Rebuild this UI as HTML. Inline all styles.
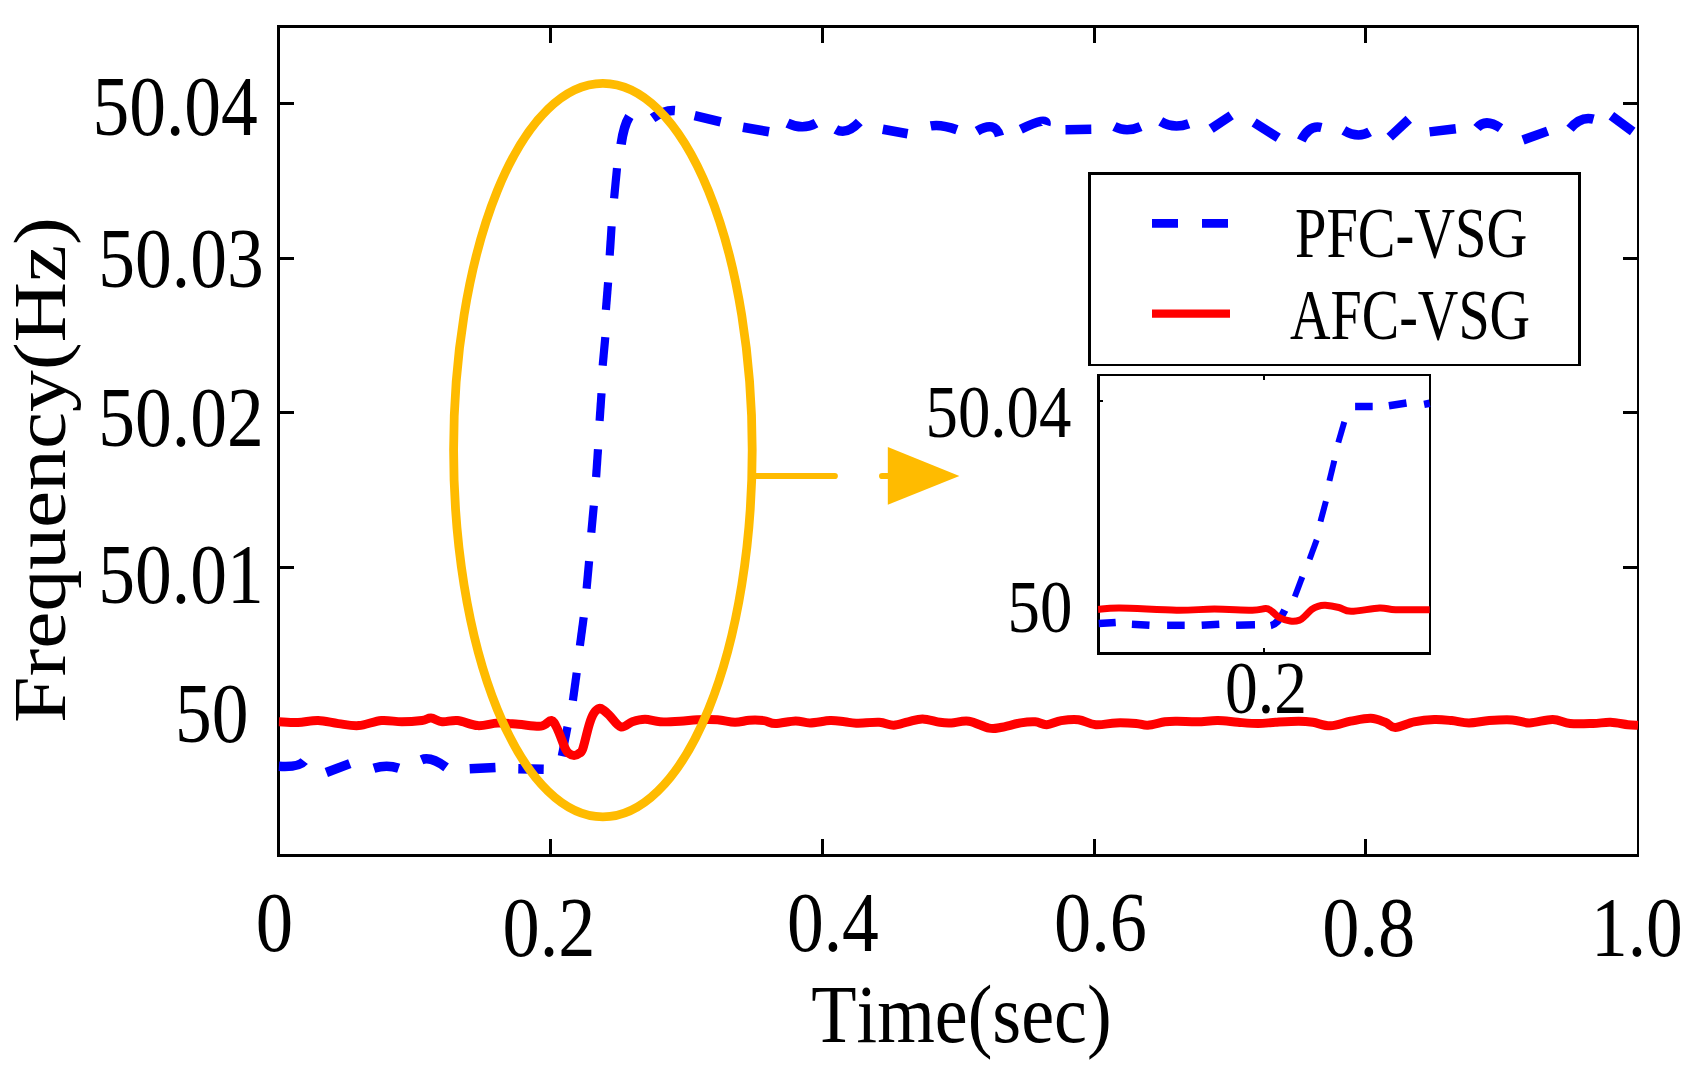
<!DOCTYPE html>
<html lang="en"><head><meta charset="utf-8"><title>Frequency response</title>
<style>html,body{margin:0;padding:0;background:#fff}svg{display:block}</style></head>
<body>
<svg width="1697" height="1072" viewBox="0 0 1697 1072" font-family="'Liberation Serif', 'Times New Roman', serif" fill="#000" style="font-kerning:none">
<rect width="1697" height="1072" fill="#fff"/>
<g shape-rendering="crispEdges"><rect x="277" y="25" width="1362" height="3" fill="#000"/><rect x="277" y="854" width="1362" height="3" fill="#000"/><rect x="277" y="25" width="3" height="832" fill="#000"/><rect x="1637" y="25" width="2" height="832" fill="#000"/><rect x="549" y="25" width="3" height="18" fill="#000"/><rect x="549" y="839" width="3" height="18" fill="#000"/><rect x="821" y="25" width="3" height="18" fill="#000"/><rect x="821" y="839" width="3" height="18" fill="#000"/><rect x="1093" y="25" width="3" height="18" fill="#000"/><rect x="1093" y="839" width="3" height="18" fill="#000"/><rect x="1364" y="25" width="3" height="18" fill="#000"/><rect x="1364" y="839" width="3" height="18" fill="#000"/><rect x="277" y="102" width="17" height="3" fill="#000"/><rect x="1623" y="102" width="16" height="3" fill="#000"/><rect x="277" y="257" width="17" height="3" fill="#000"/><rect x="1623" y="257" width="16" height="3" fill="#000"/><rect x="277" y="411" width="17" height="3" fill="#000"/><rect x="1623" y="411" width="16" height="3" fill="#000"/><rect x="277" y="566" width="17" height="3" fill="#000"/><rect x="1623" y="566" width="16" height="3" fill="#000"/><rect x="277" y="721" width="17" height="3" fill="#000"/><rect x="1623" y="721" width="16" height="3" fill="#000"/></g>
<path d="M278.9,766.2Q299.1,767.5 304.2,761.1" fill="none" stroke="#0000ff" stroke-width="9.5"/>
<path d="M326.3,772.5L349.8,763.6" fill="none" stroke="#0000ff" stroke-width="9.5"/>
<path d="M373.9,768.2Q386.9,764.2 398.7,768.2" fill="none" stroke="#0000ff" stroke-width="9.5"/>
<path d="M421.5,759.8Q430.6,756.0 446.1,767.4" fill="none" stroke="#0000ff" stroke-width="9.5"/>
<path d="M469.7,768.7L495.5,767.4" fill="none" stroke="#0000ff" stroke-width="9.5"/>
<path d="M518.3,768.7L543.7,769.2" fill="none" stroke="#0000ff" stroke-width="9.5"/>
<path d="M561.8,756.1L567.5,726.9" fill="none" stroke="#0000ff" stroke-width="8.2"/>
<path d="M572.9,700.6L576.7,672.7" fill="none" stroke="#0000ff" stroke-width="8.2"/>
<path d="M579.9,645.7L583.7,617.2" fill="none" stroke="#0000ff" stroke-width="8.2"/>
<path d="M586.6,588.7L589.1,561.1" fill="none" stroke="#0000ff" stroke-width="8.2"/>
<path d="M591.3,532.6L593.8,505.6" fill="none" stroke="#0000ff" stroke-width="8.2"/>
<path d="M596.1,477.1L598.0,449.2" fill="none" stroke="#0000ff" stroke-width="8.2"/>
<path d="M599.6,420.9L601.5,393.3" fill="none" stroke="#0000ff" stroke-width="8.2"/>
<path d="M602.7,365.7L605.3,337.2" fill="none" stroke="#0000ff" stroke-width="8.2"/>
<path d="M605.9,309.9L608.1,282.3" fill="none" stroke="#0000ff" stroke-width="8.2"/>
<path d="M609.7,255.4L611.6,226.2" fill="none" stroke="#0000ff" stroke-width="8.2"/>
<path d="M614.1,198.3L617.0,168.2" fill="none" stroke="#0000ff" stroke-width="8.2"/>
<path d="M621.1,144.4Q623.8,125.6 629.4,116.5" fill="none" stroke="#0000ff" stroke-width="9.5"/>
<path d="M652.6,118.2Q664.2,109.7 674.9,110.5" fill="none" stroke="#0000ff" stroke-width="9.5"/>
<path d="M694.7,115.7L720.7,121.9" fill="none" stroke="#0000ff" stroke-width="9.5"/>
<path d="M743.0,127.3L769.0,131.8" fill="none" stroke="#0000ff" stroke-width="9.5"/>
<path d="M787.5,123.1Q803.0,130.5 816.0,123.1" fill="none" stroke="#0000ff" stroke-width="9.5"/>
<path d="M835.8,129.3Q846.5,135.4 859.3,121.9" fill="none" stroke="#0000ff" stroke-width="9.5"/>
<path d="M882.8,129.3L907.6,133.7" fill="none" stroke="#0000ff" stroke-width="9.5"/>
<path d="M930.7,125.9Q941.0,124.0 956.9,129.7" fill="none" stroke="#0000ff" stroke-width="9.5"/>
<path d="M977.1,131.1Q995.1,120.4 999.5,136.0" fill="none" stroke="#0000ff" stroke-width="9.5"/>
<path d="M1020.8,129.3Q1048.5,115.8 1045.8,124.8" fill="none" stroke="#0000ff" stroke-width="9.5"/>
<path d="M1065.5,129.7L1091.3,129.3" fill="none" stroke="#0000ff" stroke-width="9.5"/>
<path d="M1114.4,126.6Q1126.7,132.8 1140.6,126.6" fill="none" stroke="#0000ff" stroke-width="9.5"/>
<path d="M1160.7,121.4Q1173.5,129.2 1188.7,123.7" fill="none" stroke="#0000ff" stroke-width="9.5"/>
<path d="M1211.1,128.8L1231.2,115.4" fill="none" stroke="#0000ff" stroke-width="9.5"/>
<path d="M1254.1,122.5L1278.3,137.8" fill="none" stroke="#0000ff" stroke-width="9.5"/>
<path d="M1301.3,140.5Q1309.1,124.6 1321.4,127.5" fill="none" stroke="#0000ff" stroke-width="9.5"/>
<path d="M1343.8,130.4Q1357.9,138.7 1369.6,131.9" fill="none" stroke="#0000ff" stroke-width="9.5"/>
<path d="M1389.7,137.1L1408.8,119.2" fill="none" stroke="#0000ff" stroke-width="9.5"/>
<path d="M1429.6,131.9L1455.8,128.8" fill="none" stroke="#0000ff" stroke-width="9.5"/>
<path d="M1477.0,128.1Q1485.4,117.9 1500.6,128.1" fill="none" stroke="#0000ff" stroke-width="9.5"/>
<path d="M1523.0,140.0L1547.6,131.1" fill="none" stroke="#0000ff" stroke-width="9.5"/>
<path d="M1570.0,128.8Q1580.7,115.8 1593.5,119.2" fill="none" stroke="#0000ff" stroke-width="9.5"/>
<path d="M1611.4,115.8L1632.7,131.5" fill="none" stroke="#0000ff" stroke-width="9.5"/>
<path d="M278.9,721.8C282.1,721.9 291.4,722.8 297.9,722.6C304.4,722.4 311.4,720.3 318.1,720.5C324.9,720.7 331.6,722.8 338.4,723.6C345.2,724.5 351.5,726.1 358.7,725.6C365.9,725.1 374.3,721.1 381.5,720.5C388.7,719.9 395.1,721.8 401.8,721.8C408.6,721.8 417.1,721.1 422.0,720.5C426.9,719.9 427.5,717.8 430.9,718.0C434.3,718.2 437.9,721.4 442.3,721.8C446.7,722.2 451.6,719.9 457.5,720.5C463.4,721.1 471.1,725.2 477.8,725.6C484.6,726.0 491.2,723.3 498.0,723.1C504.8,722.9 511.1,723.8 518.3,724.3C525.5,724.8 535.6,726.7 541.1,726.1C546.6,725.5 548.5,720.0 551.3,720.5C554.0,721.0 555.3,724.8 557.6,729.4C559.9,734.0 563.3,744.4 565.2,748.4C567.1,752.4 567.5,752.3 569.0,753.5C570.5,754.7 572.4,755.5 574.1,755.5C575.8,755.5 577.5,754.7 579.0,753.5C580.5,752.3 581.2,753.3 582.9,748.4C584.6,743.5 587.4,730.2 589.3,724.3C591.1,718.4 592.3,715.6 594.0,713.0C595.7,710.4 597.7,708.8 599.4,708.4C601.1,708.0 602.3,709.3 604.0,710.5C605.7,711.7 606.7,712.8 609.5,715.5C612.3,718.2 617.1,725.9 620.9,726.9C624.7,727.9 628.3,723.1 632.3,721.8C636.3,720.5 640.4,719.3 645.0,719.3C649.6,719.3 654.4,721.5 660.2,721.8C666.0,722.1 673.8,721.6 680.0,721.2C686.2,720.9 691.0,720.0 697.3,719.7C703.5,719.5 711.2,719.3 717.5,719.7C723.8,720.1 729.6,722.2 734.9,722.3C740.2,722.4 744.5,720.6 749.3,720.3C754.1,720.0 759.4,720.1 763.7,720.6C768.0,721.1 770.0,723.5 775.3,723.5C780.6,723.5 789.7,721.0 795.5,720.9C801.3,720.8 804.1,722.9 809.9,722.9C815.7,722.9 824.4,720.8 830.2,720.6C836.0,720.4 840.3,721.4 844.6,721.8C848.9,722.2 850.3,723.1 856.1,723.2C861.9,723.3 872.9,722.0 879.2,722.3C885.5,722.6 888.9,725.3 893.7,725.2C898.5,725.1 903.3,722.8 908.1,721.8C912.9,720.8 917.3,718.8 922.6,718.9C927.9,719.0 935.1,721.6 939.9,722.3C944.7,723.0 946.6,723.1 951.4,722.9C956.2,722.7 962.5,720.3 968.8,721.2C975.1,722.1 983.7,727.1 989.0,728.1C994.3,729.1 995.2,728.4 1000.5,727.5C1005.8,726.6 1014.9,723.9 1020.7,722.9C1026.5,721.9 1030.9,721.5 1035.2,721.8C1039.5,722.1 1042.4,724.9 1046.7,724.7C1051.0,724.5 1055.9,721.4 1061.2,720.6C1066.5,719.8 1072.7,719.0 1078.5,719.7C1084.3,720.4 1089.5,724.2 1095.8,724.7C1102.0,725.2 1109.3,723.1 1116.0,722.9C1122.7,722.7 1130.9,723.1 1136.2,723.5C1141.5,723.9 1143.0,725.5 1147.8,725.2C1152.6,724.9 1160.1,722.5 1165.0,721.8C1169.9,721.1 1171.9,721.2 1177.3,721.2C1182.7,721.2 1190.8,721.9 1197.5,721.8C1204.2,721.7 1211.0,720.5 1217.8,720.6C1224.5,720.7 1231.3,721.8 1238.0,722.3C1244.7,722.8 1252.0,723.5 1258.2,723.5C1264.5,723.5 1268.8,722.7 1275.5,722.3C1282.2,721.9 1292.3,721.2 1298.6,721.2C1304.8,721.2 1307.7,721.5 1313.0,722.3C1318.3,723.1 1324.1,726.0 1330.4,725.8C1336.7,725.6 1343.9,722.5 1350.6,721.2C1357.3,720.0 1365.0,718.1 1370.8,718.3C1376.6,718.5 1381.1,720.8 1385.2,722.3C1389.3,723.8 1390.5,727.6 1395.3,727.5C1400.1,727.4 1407.6,723.1 1414.1,721.8C1420.6,720.5 1428.0,719.7 1434.3,719.5C1440.6,719.3 1445.9,720.0 1451.7,720.6C1457.5,721.2 1462.8,722.9 1469.0,722.9C1475.2,722.9 1482.0,721.1 1489.2,720.6C1496.4,720.1 1505.6,719.6 1512.3,720.0C1519.0,720.4 1522.9,723.0 1529.6,722.9C1536.3,722.8 1546.0,719.4 1552.7,719.5C1559.4,719.6 1563.3,722.8 1570.0,723.5C1576.7,724.2 1586.3,723.7 1593.1,723.5C1599.8,723.3 1604.7,722.1 1610.5,722.3C1616.3,722.5 1623.2,724.2 1627.8,724.7C1632.4,725.2 1636.3,725.1 1638.0,725.2" fill="none" stroke="#ff0000" stroke-width="9" stroke-linejoin="round" />
<ellipse cx="602.9" cy="450.1" rx="149.3" ry="366.8" fill="none" stroke="#ffbb00" stroke-width="8.8"/>
<path d="M756,476H834.8" stroke="#ffbb00" stroke-width="6.2" stroke-linecap="round" fill="none"/>
<path d="M882.1,476H890" stroke="#ffbb00" stroke-width="6.2" stroke-linecap="round" fill="none"/>
<polygon points="887.8,447 887.8,504.8 959.4,476" fill="#ffbb00"/>
<g shape-rendering="crispEdges"><rect x="1088" y="172" width="493" height="194" fill="#fff"/><rect x="1088" y="172" width="493" height="3" fill="#000"/><rect x="1088" y="364" width="493" height="2" fill="#000"/><rect x="1088" y="172" width="3" height="194" fill="#000"/><rect x="1578" y="172" width="3" height="194" fill="#000"/></g>
<path d="M1152,223.4h26M1202,223.4h26" stroke="#0000ff" stroke-width="8.6"/>
<path d="M1152,313.7h78" stroke="#ff0000" stroke-width="8.3"/>
<text transform="translate(1295,257.4) scale(0.79,1)" font-size="71.5" text-anchor="start" >PFC-VSG</text>
<text transform="translate(1290,338.6) scale(0.785,1)" font-size="71.5" text-anchor="start" >AFC-VSG</text>
<g shape-rendering="crispEdges"><rect x="1097" y="374" width="334" height="281" fill="#fff"/><rect x="1097" y="374" width="334" height="2" fill="#000"/><rect x="1097" y="652" width="334" height="3" fill="#000"/><rect x="1097" y="374" width="3" height="281" fill="#000"/><rect x="1429" y="374" width="2" height="281" fill="#000"/><rect x="1263" y="376" width="2" height="4" fill="#000"/><rect x="1263" y="648" width="2" height="4" fill="#000"/><rect x="1100" y="400" width="3" height="2" fill="#000"/><rect x="1100" y="608" width="3" height="2" fill="#000"/></g>
<path d="M1098.7,623.5L1115.7,622.4" fill="none" stroke="#0000ff" stroke-width="7.5"/>
<path d="M1131.9,624.3L1149.5,625.3" fill="none" stroke="#0000ff" stroke-width="7.5"/>
<path d="M1167.1,625.3L1184.7,625.3" fill="none" stroke="#0000ff" stroke-width="7.5"/>
<path d="M1201.7,625.3L1219.3,624.3" fill="none" stroke="#0000ff" stroke-width="7.5"/>
<path d="M1236.1,625.3L1255.0,624.8" fill="none" stroke="#0000ff" stroke-width="7.5"/>
<path d="M1270.7,625.6Q1278.2,624.1 1284.8,610.2" fill="none" stroke="#0000ff" stroke-width="7.5"/>
<path d="M1294.8,596.7L1302.3,576.9" fill="none" stroke="#0000ff" stroke-width="6"/>
<path d="M1309.6,559.3L1316.7,539.9" fill="none" stroke="#0000ff" stroke-width="6"/>
<path d="M1320.5,521.5L1325.9,501.2" fill="none" stroke="#0000ff" stroke-width="6"/>
<path d="M1329.4,480.9L1334.3,460.6" fill="none" stroke="#0000ff" stroke-width="6"/>
<path d="M1338.3,442.5L1344.3,421.9" fill="none" stroke="#0000ff" stroke-width="6"/>
<path d="M1355.1,406.5L1372.7,406.5" fill="none" stroke="#0000ff" stroke-width="7.5"/>
<path d="M1388.9,405.7L1406.5,403.0" fill="none" stroke="#0000ff" stroke-width="7.5"/>
<path d="M1424.1,404.4L1429.7,403.3" fill="none" stroke="#0000ff" stroke-width="7.5"/>
<path d="M1098.1,609.4C1101.7,609.2 1106.7,607.9 1119.8,608.0C1132.9,608.1 1160.8,610.0 1176.6,610.2C1192.4,610.4 1201.8,609.1 1214.4,609.1C1227.0,609.1 1243.7,610.3 1252.3,610.2C1260.9,610.1 1262.5,608.4 1265.8,608.6C1269.1,608.8 1269.8,610.0 1272.0,611.5C1274.2,613.0 1276.3,615.9 1279.3,617.5C1282.3,619.1 1286.8,620.5 1290.2,621.0C1293.6,621.5 1297.1,621.0 1299.6,620.2C1302.1,619.4 1303.0,617.8 1305.0,616.0C1307.0,614.2 1309.6,611.0 1311.8,609.4C1314.0,607.8 1315.8,607.0 1318.0,606.3C1320.2,605.6 1321.8,605.1 1325.3,605.3C1328.8,605.5 1334.6,606.5 1338.9,607.5C1343.2,608.5 1344.2,611.2 1351.0,611.3C1357.8,611.4 1372.0,608.3 1379.4,608.0C1386.9,607.7 1387.3,609.4 1395.7,609.7C1404.1,610.0 1424.0,609.7 1429.7,609.7" fill="none" stroke="#ff0000" stroke-width="7" stroke-linejoin="round" />
<text transform="translate(925.5,436.7) scale(0.876,1)" font-size="74" text-anchor="start" >50.04</text>
<text transform="translate(1007.5,631.8) scale(0.876,1)" font-size="74" text-anchor="start" >50</text>
<text transform="translate(1225,712.9) scale(0.886,1)" font-size="74" text-anchor="start" >0.2</text>
<text transform="translate(92.5,135) scale(0.875,1)" font-size="84" text-anchor="start" >50.04</text>
<text transform="translate(98.3,287.3) scale(0.875,1)" font-size="84" text-anchor="start" >50.03</text>
<text transform="translate(98.3,446) scale(0.875,1)" font-size="84" text-anchor="start" >50.02</text>
<text transform="translate(98.3,603) scale(0.875,1)" font-size="84" text-anchor="start" >50.01</text>
<text transform="translate(175,742.3) scale(0.875,1)" font-size="84" text-anchor="start" >50</text>
<text transform="translate(255.8,951) scale(0.89,1)" font-size="84" text-anchor="start" >0</text>
<text transform="translate(502.5,956) scale(0.885,1)" font-size="84" text-anchor="start" >0.2</text>
<text transform="translate(787,951) scale(0.875,1)" font-size="84" text-anchor="start" >0.4</text>
<text transform="translate(1054,951) scale(0.885,1)" font-size="84" text-anchor="start" >0.6</text>
<text transform="translate(1322.3,956) scale(0.885,1)" font-size="84" text-anchor="start" >0.8</text>
<text transform="translate(1591,956) scale(0.875,1)" font-size="84" text-anchor="start" >1.0</text>
<text transform="translate(811.3,1041.5) scale(0.893,1)" font-size="83" text-anchor="start" >Time(sec)</text>
<text transform="translate(64.9,723) rotate(-90) scale(1,0.889)" font-size="83.6">Frequency(Hz)</text>
</svg>
</body></html>
